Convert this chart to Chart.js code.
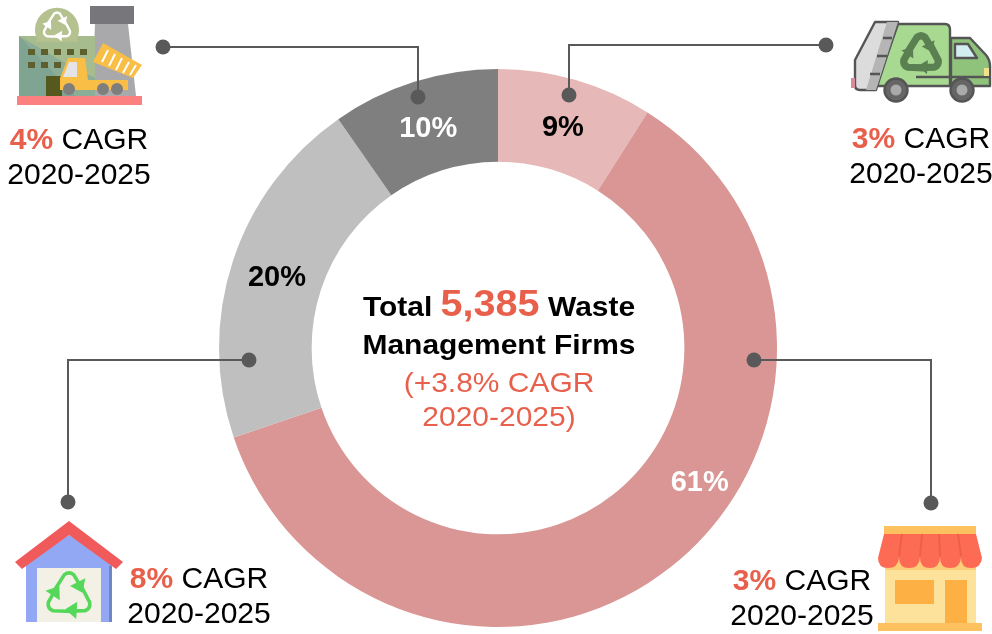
<!DOCTYPE html>
<html>
<head>
<meta charset="utf-8">
<title>Waste Management Firms</title>
<script src="https://cdn.jsdelivr.net/npm/chart.js@4"></script>
<style>
  html, body { margin: 0; padding: 0; background: #fff; }
  #wrap { position: relative; width: 992px; height: 634px; overflow: hidden; font-family: "Liberation Sans", Arial, sans-serif; color: #000; }
  canvas { position: absolute; left: 0; top: 0; }
  #icons { position: absolute; left: 0; top: 0; filter: blur(.4px); }
  .txt { position: absolute; transform: translateX(-50%); white-space: nowrap; text-align: center; }
  .cagr { font-size: 30px; line-height: 35px; }
  .red { color: #e8604c; }
  .b { font-weight: bold; }
  .mid { font-size: 28px; line-height: 30px; transform: translateX(-50%) scaleX(1.07); }
  .big { font-size: 37px; }
</style>
</head>
<body>
<div id="wrap">
  <canvas id="donut" width="992" height="634"></canvas>

  <svg id="icons" width="992" height="634" viewBox="0 0 992 634">
    <defs>
      <g id="rec">
        <g id="arm"><path d="M-62 -22 L-20 -88 Q0 -104 20 -88 L38 -58" fill="none" stroke-linejoin="round" stroke-linecap="round"/><path d="M68 -74 L56 -14 L4 -42 Z" stroke="none"/></g>
        <use href="#arm" transform="rotate(120)"/>
        <use href="#arm" transform="rotate(240)"/>
      </g>
    </defs>

    <!-- fabrica -->
    <rect x="90" y="6" width="44" height="18" fill="#77767a"/>
    <path d="M95 24H128L136 96H92Z" fill="#a9a9ac"/>
    <rect x="19" y="36" width="76" height="60" fill="#a6bc8f"/>
    <path d="M60 60L95 78V96H19V36Z" fill="#8dae96"/>
    <path d="M19 36L75 96H19Z" fill="#7fa492"/>
    <path d="M37 39A22 22 0 1 1 77 39L78 42H36Z" fill="#b5c28f"/>
    <use href="#rec" transform="translate(57 27) scale(.15)" fill="#fff" stroke="#fff" stroke-width="16"/>
    <g fill="#5d5f2c">
      <rect x="28" y="49" width="7" height="6"/><rect x="41" y="49" width="7" height="6"/><rect x="54" y="49" width="7" height="6"/><rect x="67" y="49" width="7" height="6"/><rect x="80" y="49" width="7" height="6"/>
      <rect x="28" y="62" width="7" height="6"/><rect x="41" y="62" width="7" height="6"/><rect x="54" y="62" width="7" height="6"/>
    </g>
    <rect x="46" y="76" width="16" height="20" fill="#56591e"/>
    <rect x="17" y="96" width="125" height="9" fill="#fc8080"/>
    <path d="M60 90V78L68 58H85L88 80H128V90H60Z" fill="#f9be45"/>
    <path d="M63 77L69 62H77V77Z" fill="#e4e4e8"/>
    <path d="M103 43L142 65L133 78L93 62Z" fill="#f9be45"/>
    <path d="M108 50L102 62M115 54L109 66M122 58L116 70M129 62L123 73M136 65L130 75" stroke="#fff" stroke-width="2" fill="none"/>
    <circle cx="69" cy="89" r="6" fill="#7e7e7c"/><circle cx="103" cy="89" r="6" fill="#7e7e7c"/><circle cx="117" cy="89" r="6" fill="#7e7e7c"/>

    <!-- camion -->
    <g stroke="#555" stroke-width="2.4" stroke-linejoin="round">
      <path d="M951 38H970L986 55Q990 60 990 66V86H951Z" fill="#8fc37c"/>
      <path d="M898 24H945Q950 24 950 30V86H876Z" fill="#a7d990"/>
      <path d="M875 22H898L876 90H860Q855 90 855 85V60Z" fill="#dcdcdc"/>
      <path d="M887 22H898L876 90H866Z" fill="#b5b5b5" stroke="none"/>
      <path d="M955 44H968L977 58H955Z" fill="#d2eeef"/>
      <path d="M883 38H892M877 56H887M870 74H880M916 77H990" fill="none"/>
      <circle cx="896" cy="90" r="11.5" fill="#666"/>
      <circle cx="962" cy="90" r="11.5" fill="#666"/>
    </g>
    <circle cx="896" cy="90" r="5.5" fill="#aaa"/><circle cx="962" cy="90" r="5.5" fill="#aaa"/>
    <rect x="984" y="68" width="5" height="8" fill="#f1e08c"/>
    <rect x="851" y="78" width="4" height="10" fill="#d98a9b"/>
    <use href="#rec" transform="translate(921 55) scale(.2)" fill="#5a7f50" stroke="#5a7f50" stroke-width="36"/>

    <!-- casa -->
    <path d="M26 563L69 535L112 563V622H26Z" fill="#93a8f4"/>
    <rect x="109" y="566" width="3" height="56" fill="#6f86c4"/>
    <rect x="37" y="568" width="64" height="54" fill="#f3f1e6"/>
    <path d="M69 521L123 562L116 569L69 535L22 569L15 562Z" fill="#f05a5a"/>
    <use href="#rec" transform="translate(69 596) scale(.24)" fill="#55d85a" stroke="#55d85a" stroke-width="15"/>

    <!-- tienda -->
    <rect x="885" y="533" width="91" height="90" fill="#fde29b"/>
    <rect x="885" y="560" width="91" height="10" fill="#fbcf7a"/>
    <rect x="884" y="526" width="92" height="8" fill="#fdc25f"/>
    <rect x="895" y="580" width="39" height="24" fill="#fdb144"/>
    <rect x="945" y="580" width="22" height="43" fill="#fdb144"/>
    <rect x="878" y="623" width="104" height="8" fill="#fdc25f"/>
    <path d="M884 534H976L982 558Q981 568 971 568Q961 568 961 558Q960 568 950 568Q940 568 940 558Q939 568 930 568Q920 568 920 558Q919 568 909 568Q899 568 899 558Q898 568 888 568Q878 568 878 558Z" fill="#fd6b55"/>
    <path d="M899 556L902 534M920 556L922 534M940 556L939 534M961 556L958 534" stroke="#ee5f4a" stroke-width="2" fill="none"/>
  </svg>

  <div class="txt mid b" style="left:499px;top:289px;">Total <span class="big red">5,385</span> Waste</div>
  <div class="txt mid b" style="left:499px;top:330px;">Management Firms</div>
  <div class="txt mid red" style="left:499px;top:368px;">(+3.8% CAGR</div>
  <div class="txt mid red" style="left:499px;top:402px;">2020-2025)</div>

  <div class="txt cagr" style="left:79px;top:121px;"><span class="red b">4%</span> CAGR<br>2020-2025</div>
  <div class="txt cagr" style="left:921px;top:120px;"><span class="red b">3%</span> CAGR<br>2020-2025</div>
  <div class="txt cagr" style="left:199px;top:560px;"><span class="red b">8%</span> CAGR<br>2020-2025</div>
  <div class="txt cagr" style="left:802px;top:562px;"><span class="red b">3%</span> CAGR<br>2020-2025</div>
</div>

<script>
const categories = ['Collection', 'Retail', 'Storage', 'Processing'];
const shares = [9, 60.8, 20.5, 9.7];
const shareLabels = ['9%', '61%', '20%', '10%'];
const sliceColors = ['#e6b8b7', '#d99694', '#bfbfbf', '#7f7f7f'];
const labelColors = ['#000', '#fff', '#000', '#fff'];

/* ---- Etiquetas de porcentaje ---- */
const sliceLabels = {
  id: 'sliceLabels',
  afterDatasetsDraw(chart) {
    const { ctx } = chart;
    const shift = [[0, 0], [58, -51], [0, 0], [0, 0]];
    ctx.save();
    ctx.font = 'bold 29px "Liberation Sans", Arial, sans-serif';
    ctx.textAlign = 'center';
    ctx.textBaseline = 'middle';
    chart.getDatasetMeta(0).data.forEach((arc, i) => {
      const pos = arc.tooltipPosition();
      ctx.fillStyle = labelColors[i];
      ctx.fillText(shareLabels[i], pos.x + shift[i][0], pos.y + shift[i][1] + 3);
    });
    ctx.restore();
  }
};

/* ---- Lineas guia ---- */
const leaders = {
  id: 'leaders',
  afterDraw(chart) {
    const { ctx } = chart;
    const paths = [
      [[163, 47], [418, 47], [418, 97]],
      [[826, 45], [569, 45], [569, 95]],
      [[249, 360], [68, 360], [68, 502]],
      [[754, 360], [931, 360], [931, 503]]
    ];
    ctx.save();
    ctx.strokeStyle = '#595959';
    ctx.fillStyle = '#595959';
    ctx.lineWidth = 2;
    paths.forEach(p => {
      ctx.beginPath();
      p.forEach((pt, i) => i ? ctx.lineTo(pt[0], pt[1]) : ctx.moveTo(pt[0], pt[1]));
      ctx.stroke();
      [p[0], p[2]].forEach(pt => {
        ctx.beginPath();
        ctx.arc(pt[0], pt[1], 7.5, 0, Math.PI * 2);
        ctx.fill();
      });
    });
    ctx.restore();
  }
};

new Chart(document.getElementById('donut'), {
  type: 'doughnut',
  data: {
    labels: categories,
    datasets: [{ data: shares, backgroundColor: sliceColors, borderWidth: 0 }]
  },
  options: {
    responsive: false,
    animation: false,
    cutout: '66.8%',
    layout: { padding: { top: 69, bottom: 7, left: 4 } },
    plugins: { legend: { display: false }, tooltip: { enabled: false } }
  },
  plugins: [sliceLabels, leaders]
});
</script>
</body>
</html>
